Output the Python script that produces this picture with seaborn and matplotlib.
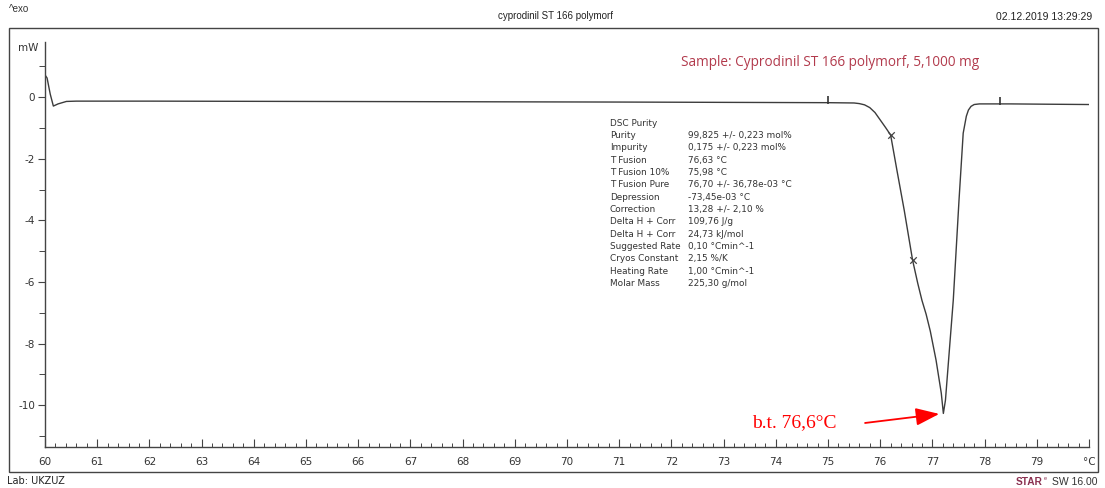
import matplotlib
matplotlib.use("Agg")
import matplotlib.pyplot as plt
import pandas as pd
import seaborn as sns
from matplotlib.patches import Rectangle

# DSC heating curve (temperature in °C, heat flow in mW)
temperature = [60.00, 60.04, 60.10, 60.16, 60.25, 60.41, 60.60, 62.0, 65.0, 68.0,
               71.0, 73.0, 75.0, 75.50, 75.60, 75.70, 75.80, 75.90, 76.00, 76.10,
               76.20, 76.32, 76.46, 76.62, 76.72, 76.80, 76.88, 76.96, 77.07, 77.17,
               77.21, 77.25, 77.40, 77.51, 77.59, 77.65, 77.69, 77.74, 77.80, 77.90,
               78.5, 79.2, 80.0]
heat_flow = [0.72, 0.62, 0.10, -0.29, -0.22, -0.14, -0.13, -0.13, -0.14, -0.15,
             -0.16, -0.17, -0.18, -0.19, -0.21, -0.25, -0.34, -0.50, -0.74, -0.98,
             -1.23, -2.37, -3.67, -5.29, -6.05, -6.60, -7.05, -7.60, -8.54, -9.61,
             -10.27, -9.84, -6.59, -3.34, -1.17, -0.62, -0.42, -0.30, -0.24, -0.22,
             -0.22, -0.23, -0.24]

# evaluation points on the melting peak
point_temps = [76.20, 76.62]
point_flows = [-1.23, -5.29]

# integration limits
limit_temps = [75.0, 78.3]
limit_flows = [-0.08, -0.12]

result_labels = ["DSC Purity", "Purity", "Impurity", "T Fusion", "T Fusion 10%",
                 "T Fusion Pure", "Depression", "Correction", "Delta H + Corr",
                 "Delta H + Corr", "Suggested Rate", "Cryos Constant",
                 "Heating Rate", "Molar Mass"]
result_values = ["", "99,825 +/- 0,223 mol%", "0,175 +/- 0,223 mol%", "76,63 °C",
                 "75,98 °C", "76,70 +/- 36,78e-03 °C", "-73,45e-03 °C",
                 "13,28 +/- 2,10 %", "109,76 J/g", "24,73 kJ/mol",
                 "0,10 °Cmin^-1", "2,15 %/K", "1,00 °Cmin^-1", "225,30 g/mol"]

peak_label = "b.t. 76,6°C"
peak_temp = 77.21
peak_flow = -10.27

x_ticks = list(range(60, 81))
x_labels = [str(t) for t in range(60, 80)] + ["°C"]
y_ticks = [0, -2, -4, -6, -8, -10]

sns.set_theme(style="white")
plt.rcParams["font.family"] = ["DejaVu Sans"]
plt.rcParams["axes.unicode_minus"] = False

W, H = 1105, 488
fig = plt.figure(figsize=(W / 100, H / 100), dpi=100)
fig.patch.set_facecolor("white")


def px(x, y):
    return x / W, 1 - y / H


ax = fig.add_axes([45 / W, 1 - 447 / H, 1044 / W, 405 / H])
ax.set_facecolor("none")

df = pd.DataFrame({"T": temperature, "P": heat_flow})
sns.lineplot(data=df, x="T", y="P", ax=ax, color="#3c3c3c", linewidth=1.0,
             sort=False, estimator=None)

ax.scatter(point_temps, point_flows, marker="x", s=22, color="#444444",
           linewidths=0.9, zorder=3)
ax.scatter(limit_temps, limit_flows, marker="|", s=30, color="#333333",
           linewidths=1.2, zorder=3)

ax.set_xlim(60, 80)
ax.set_ylim(-11.36, 1.79)
ax.set_xlabel("")
ax.set_ylabel("")

ax.set_xticks(x_ticks)
ax.set_xticklabels(x_labels)
ax.set_xticks([60 + i * 0.2 for i in range(101)], minor=True)
ax.set_yticks(y_ticks)
ax.set_yticks([1, -1, -3, -5, -7, -9, -11], minor=True)

for s in ["top", "right"]:
    ax.spines[s].set_visible(False)
for s in ["left", "bottom"]:
    ax.spines[s].set_color("#444444")
    ax.spines[s].set_linewidth(1.0)

ax.tick_params(axis="x", which="major", direction="in", length=6, width=0.8,
               color="#444444", labelsize=7.5, labelcolor="#333333", pad=7,
               bottom=True)
ax.tick_params(axis="x", which="minor", direction="in", length=3, width=0.7,
               color="#444444", bottom=True)
ax.tick_params(axis="y", which="major", direction="out", length=5, width=0.8,
               color="#444444", labelsize=7.5, labelcolor="#333333", pad=2,
               left=True)
ax.tick_params(axis="y", which="minor", direction="out", length=4, width=0.7,
               color="#444444", left=True)

ax.text(-0.006, 1.6, "mW", transform=ax.get_yaxis_transform(), ha="right",
        va="center", fontsize=7.5, color="#333333")

# peak annotation
ax.annotate("", xy=(peak_temp, peak_flow), xytext=(75.71, -10.58),
            arrowprops=dict(arrowstyle="-|>,head_length=1.2,head_width=0.45",
                            color="red", lw=1.3, shrinkA=0, shrinkB=3))
ax.text(75.17, -10.58, peak_label, ha="right", va="center", color="red",
        fontsize=14, family="Liberation Serif")

# sample line
fig.text(*px(681, 62), "Sample: Cyprodinil ST 166 polymorf, 5,1000 mg",
         ha="left", va="center", fontsize=9.8, color="#b23a4c",
         family="Open Sans")

# purity results table
for i, (lab, val) in enumerate(zip(result_labels, result_values)):
    y = 123 + i * 12.35
    fig.text(*px(610, y), lab, ha="left", va="center", fontsize=6.4,
             color="#333333")
    if val:
        fig.text(*px(688, y), val, ha="left", va="center", fontsize=6.4,
                 color="#333333")

# page header and footer
fig.text(*px(9, 9), "^exo", ha="left", va="center", fontsize=7,
         color="#333333", family="Liberation Sans")
fig.text(*px(556, 16), "cyprodinil ST 166 polymorf", ha="center", va="center",
         fontsize=7, color="#222222", family="Liberation Sans")
fig.text(*px(1092, 17), "02.12.2019 13:29:29", ha="right", va="center",
         fontsize=7.5, color="#222222", family="Liberation Sans")
fig.text(*px(7, 481), "Lab: UKZUZ", ha="left", va="center", fontsize=7,
         color="#222222")
fig.text(*px(1043, 482), "STAR", ha="right", va="center", fontsize=7.3,
         color="#8a3050", family="Liberation Sans", weight="bold")
fig.text(*px(1044, 479), "e", ha="left", va="center", fontsize=4,
         color="#8a3050", family="Liberation Sans")
fig.text(*px(1097, 482), "SW 16.00", ha="right", va="center", fontsize=7.5,
         color="#333333", family="Liberation Sans")

# outer page frame
x0, y0 = px(9, 472)
x1, y1 = px(1098, 28)
fig.add_artist(Rectangle((x0, y0), x1 - x0, y1 - y0, transform=fig.transFigure,
                         fill=False, edgecolor="#444444", linewidth=1.0))

fig.savefig("out.png", dpi=100, facecolor="white")
